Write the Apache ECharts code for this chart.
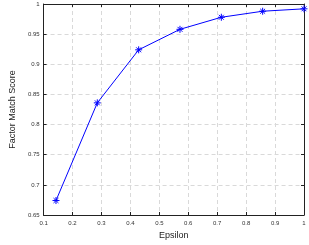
<!DOCTYPE html>
<html><head><meta charset="utf-8">
<script src="https://cdn.jsdelivr.net/npm/echarts@6/dist/echarts.min.js"></script>
<style>html,body{margin:0;padding:0;background:#fff}#c{width:309px;height:245px}</style>
</head><body><div id="c"></div>
<script>
const epsilon = [0.1429, 0.2857, 0.4286, 0.5714, 0.7143, 0.8571, 1.0];
const score = [0.674, 0.836, 0.924, 0.958, 0.978, 0.988, 0.992];
const xTitle = 'Epsilon';
const yTitle = 'Factor Match Score';

const chart = echarts.init(document.getElementById('c'), null, {renderer: 'canvas'});
const lbl = {fontSize: 6, color: '#333', fontFamily: 'Liberation Sans, Arial, sans-serif'};
const gridLine = {show: true, lineStyle: {color: '#d9d9d9', type: [4, 3], width: 1}};
const tick = {show: true, inside: true, length: 3, lineStyle: {color: '#222'}};
const axLine = {show: true, onZero: false, lineStyle: {color: '#222', width: 1}};
chart.setOption({
  animation: false,
  grid: {left: 27, right: 5, top: 4, bottom: 23, containLabel: false},
  xAxis: [{
    type: 'value', min: 0.1, max: 1, interval: 0.1, position: 'bottom',
    axisLine: axLine, axisTick: tick, splitLine: gridLine,
    axisLabel: Object.assign({margin: 5, formatter: v => String(Math.round(v*10)/10)}, lbl),
    name: xTitle, nameLocation: 'middle', nameGap: 16,
    nameTextStyle: {fontSize: 9, color: '#222', fontFamily: 'Liberation Sans, Arial, sans-serif'}
  }, {
    type: 'value', min: 0.1, max: 1, interval: 0.1, position: 'top',
    axisLine: axLine, axisTick: tick, splitLine: {show: false}, axisLabel: {show: false}
  }],
  yAxis: [{
    type: 'value', min: 0.65, max: 1, interval: 0.05, position: 'left',
    axisLine: axLine, axisTick: tick, splitLine: gridLine,
    axisLabel: Object.assign({margin: 4, formatter: v => String(Math.round(v*100)/100)}, lbl),
    name: yTitle, nameLocation: 'middle', nameGap: 19,
    nameTextStyle: {fontSize: 9, color: '#222', fontFamily: 'Liberation Sans, Arial, sans-serif'}
  }, {
    type: 'value', min: 0.65, max: 1, interval: 0.05, position: 'right',
    axisLine: axLine, axisTick: tick, splitLine: {show: false}, axisLabel: {show: false}
  }],
  series: [{
    type: 'line',
    data: epsilon.map((x, i) => [x, score[i]]),
    lineStyle: {color: '#0000ff', width: 1},
    symbol: 'path://M0,-10L0,10M-10,0L10,0M-7,-7L7,7M-7,7L7,-7',
    symbolSize: 7,
    itemStyle: {color: 'rgba(0,0,0,0)', borderColor: '#0000ff', borderWidth: 1},
    clip: false
  }]
});
</script></body></html>
